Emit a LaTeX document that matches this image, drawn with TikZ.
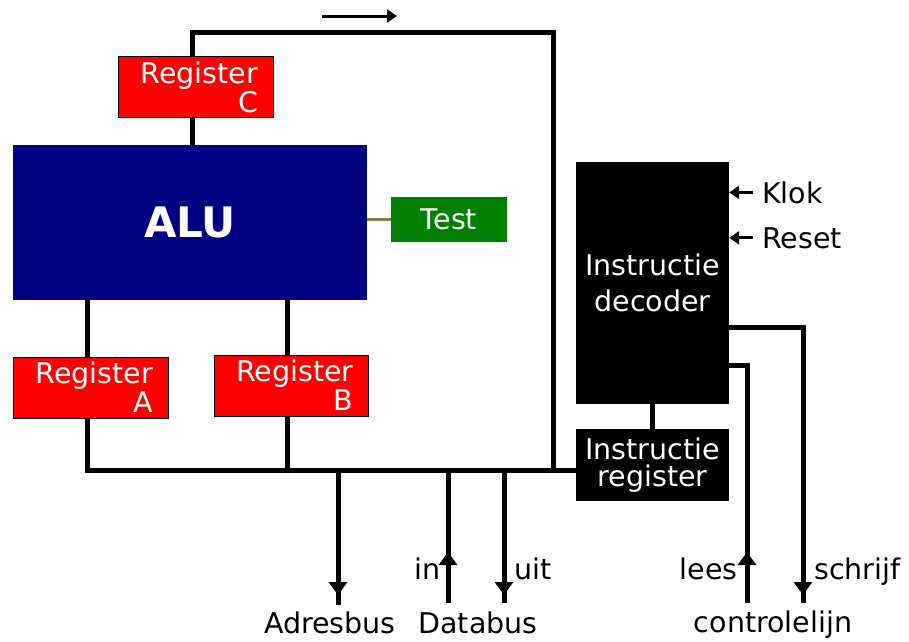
\documentclass[tikz,border=0pt]{standalone}
\usepackage{fontspec}
\setmainfont{DejaVu Sans}
\usetikzlibrary{arrows.meta,decorations.markings}
\definecolor{regred}{RGB}{255,0,0}
\definecolor{alublue}{RGB}{0,0,128}
\definecolor{testgreen}{RGB}{0,128,0}
\definecolor{olivelink}{RGB}{128,128,64}
\tikzset{
  basefont/.style={font=\fontsize{28.5}{29}\selectfont},
  regbox/.style={draw=black, line width=1pt, fill=regred, text=white, inner sep=0pt,
    minimum width=155pt, minimum height=61pt, align=right, text width=125pt, basefont},
  blackbox/.style={fill=black, text=white, inner sep=0pt, minimum width=153pt, align=center},
  busline/.style={line width=5pt},
  thinarrow/.style={line width=3pt, -{Triangle[width=13pt,length=10pt]}},
  marrow/.style={postaction={decorate,decoration={markings,
     mark=at position #1 with {\arrow{Triangle[width=18pt,length=13pt]}}}}},
  lbl/.style={inner sep=0pt, basefont},
}
\begin{document}
\begin{tikzpicture}[x=1pt,y=-1pt]
\useasboundingbox[fill=white] (0,0) rectangle (909,641);

% boxes
\node[regbox] (regC) at (195.5,87) {Register\\C};
\node[fill=alublue, text=white, inner sep=0pt, minimum width=354pt, minimum height=155pt,
      font=\fontsize{42}{42}\selectfont\bfseries] (alu) at (190,222.5) {ALU};
\node[fill=testgreen, text=white, inner sep=0pt, minimum width=116pt, minimum height=45pt,
      basefont] (test) at (449,219.5) {Test};
\node[regbox] (regA) at (90.5,387.5) {Register\\A};
\node[regbox, minimum width=154pt] (regB) at (291,385.5) {Register\\B};
\node[blackbox, minimum height=242pt, font=\fontsize{28.5}{36}\selectfont] (dec) at (652.5,283) {Instructie\\decoder};
\node[blackbox, minimum height=72pt, font=\fontsize{28.5}{27}\selectfont] (ir) at (652.5,465) {Instructie\\register};

% coordinates
\coordinate (tl) at (192,32);
\coordinate (tr) at (553,32);
\coordinate (busR) at (553,470);
\coordinate (busL) at (87,470);
\coordinate (xb) at (287,470);
\coordinate (adr) at (338,470);
\coordinate (adrE) at (338,605);
\coordinate (dinT) at (448,470);
\coordinate (dinB) at (448,603);
\coordinate (doutT) at (504,470);
\coordinate (doutB) at (504,603);
\coordinate (leesB) at (747,603);
\coordinate (leesC) at (747,365);
\coordinate (schrC) at (803,327);
\coordinate (schrB) at (803,603);
\coordinate (topA) at (322,16);
\coordinate (topB) at (397,16);

% bus lines
\draw[busline] (regC.north -| tl) -- (tl) -- (tr) -- (busR);
\draw[busline] (regC.south -| tl) -- (alu.north -| tl);
\draw[busline] (alu.south -| busL) -- (regA.north -| busL);
\draw[busline] (regA.south -| busL) -- (busL) -- (ir.west |- busL);
\draw[busline] (alu.south -| xb) -- (regB.north -| xb);
\draw[busline] (regB.south -| xb) -- (xb);
\draw[line width=3pt, olivelink] (alu.east |- test) -- (test.west);
\draw[busline] (dec.south) -- (ir.north);

% external lines
\draw[busline, marrow=-10pt] (adr) -- (adrE);
\draw[busline, marrow=51pt] (dinB) -- (dinT);
\draw[busline, marrow=-8pt] (doutT) -- (doutB);
\draw[busline, marrow=51pt] (leesB) -- (leesC) -- (dec.east |- leesC);
\draw[busline, marrow=-8pt] (dec.east |- schrC) -- (schrC) -- (schrB);
\draw[thinarrow] (topA) -- (topB);

% Klok / Reset
\node[lbl, anchor=base west] (klok) at (762,203) {Klok};
\node[lbl, anchor=base west] (reset) at (762,248) {Reset};
\draw[thinarrow] ([xshift=-9pt]klok.west) -- (dec.east |- klok.west);
\draw[thinarrow] ([xshift=-9pt]reset.west) -- (dec.east |- reset.west);

% labels
\node[lbl, anchor=base east] (lin) at (441,579) {in};
\node[lbl, anchor=base west] (luit) at (514,579) {uit};
\node[lbl, anchor=base east] (llees) at (738,579) {lees};
\node[lbl, anchor=base west] (lschr) at (814,579) {schrijf};
\node[lbl, anchor=base] (ladr) at (330,633) {Adresbus};
\node[lbl, anchor=base] (ldata) at (478,633) {Databus};
\node[lbl, anchor=base] (lctrl) at (773,632) {controlelijn};
\end{tikzpicture}
\end{document}
